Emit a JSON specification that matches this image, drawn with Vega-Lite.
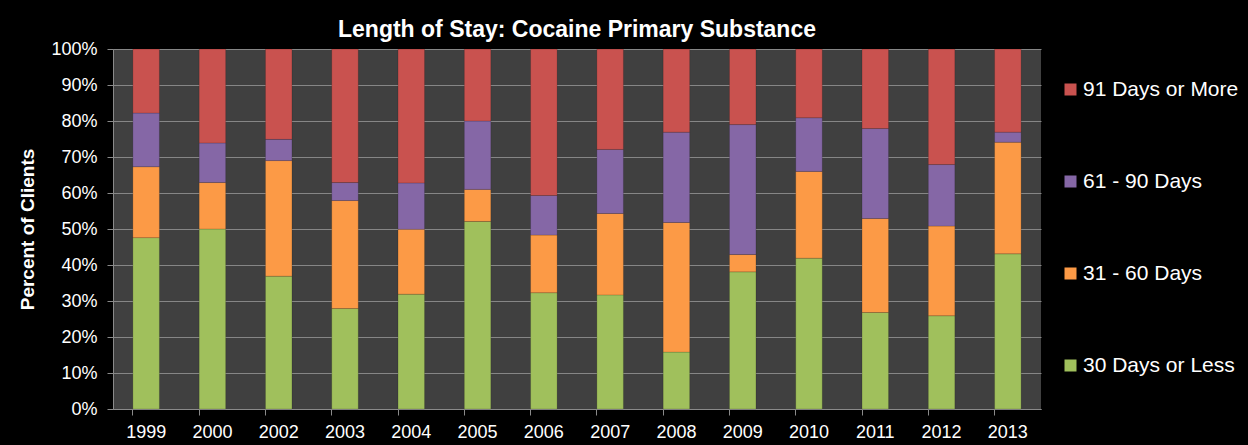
{
  "$schema": "https://vega.github.io/schema/vega-lite/v6.json",
  "width": 928,
  "height": 360,
  "autosize": {"type": "none"},
  "padding": {"left": 113, "top": 49, "right": 207, "bottom": 36},
  "background": "black",
  "title": {"text": "Length of Stay: Cocaine Primary Substance", "color": "white", "font": "Liberation Sans", "fontSize": 23, "fontWeight": "bold", "anchor": "middle", "offset": -2},
  "config": {
    "view": {"fill": "#404040", "stroke": null},
    "font": "Liberation Sans"
  },
  "data": {"values": [
    {"year": "1999", "cat": "30 Days or Less", "k": 1, "v": 47.6},
    {"year": "1999", "cat": "31 - 60 Days", "k": 2, "v": 19.7},
    {"year": "1999", "cat": "61 - 90 Days", "k": 3, "v": 14.9},
    {"year": "1999", "cat": "91 Days or More", "k": 4, "v": 17.8},
    {"year": "2000", "cat": "30 Days or Less", "k": 1, "v": 50.0},
    {"year": "2000", "cat": "31 - 60 Days", "k": 2, "v": 12.9},
    {"year": "2000", "cat": "61 - 90 Days", "k": 3, "v": 11.0},
    {"year": "2000", "cat": "91 Days or More", "k": 4, "v": 26.1},
    {"year": "2002", "cat": "30 Days or Less", "k": 1, "v": 36.9},
    {"year": "2002", "cat": "31 - 60 Days", "k": 2, "v": 32.1},
    {"year": "2002", "cat": "61 - 90 Days", "k": 3, "v": 5.9},
    {"year": "2002", "cat": "91 Days or More", "k": 4, "v": 25.1},
    {"year": "2003", "cat": "30 Days or Less", "k": 1, "v": 27.9},
    {"year": "2003", "cat": "31 - 60 Days", "k": 2, "v": 30.0},
    {"year": "2003", "cat": "61 - 90 Days", "k": 3, "v": 5.0},
    {"year": "2003", "cat": "91 Days or More", "k": 4, "v": 37.1},
    {"year": "2004", "cat": "30 Days or Less", "k": 1, "v": 31.9},
    {"year": "2004", "cat": "31 - 60 Days", "k": 2, "v": 18.0},
    {"year": "2004", "cat": "61 - 90 Days", "k": 3, "v": 12.9},
    {"year": "2004", "cat": "91 Days or More", "k": 4, "v": 37.2},
    {"year": "2005", "cat": "30 Days or Less", "k": 1, "v": 52.1},
    {"year": "2005", "cat": "31 - 60 Days", "k": 2, "v": 8.9},
    {"year": "2005", "cat": "61 - 90 Days", "k": 3, "v": 19.0},
    {"year": "2005", "cat": "91 Days or More", "k": 4, "v": 20.0},
    {"year": "2006", "cat": "30 Days or Less", "k": 1, "v": 32.3},
    {"year": "2006", "cat": "31 - 60 Days", "k": 2, "v": 16.0},
    {"year": "2006", "cat": "61 - 90 Days", "k": 3, "v": 11.0},
    {"year": "2006", "cat": "91 Days or More", "k": 4, "v": 40.7},
    {"year": "2007", "cat": "30 Days or Less", "k": 1, "v": 31.7},
    {"year": "2007", "cat": "31 - 60 Days", "k": 2, "v": 22.6},
    {"year": "2007", "cat": "61 - 90 Days", "k": 3, "v": 17.8},
    {"year": "2007", "cat": "91 Days or More", "k": 4, "v": 27.9},
    {"year": "2008", "cat": "30 Days or Less", "k": 1, "v": 15.8},
    {"year": "2008", "cat": "31 - 60 Days", "k": 2, "v": 36.0},
    {"year": "2008", "cat": "61 - 90 Days", "k": 3, "v": 25.1},
    {"year": "2008", "cat": "91 Days or More", "k": 4, "v": 23.1},
    {"year": "2009", "cat": "30 Days or Less", "k": 1, "v": 38.1},
    {"year": "2009", "cat": "31 - 60 Days", "k": 2, "v": 4.8},
    {"year": "2009", "cat": "61 - 90 Days", "k": 3, "v": 36.1},
    {"year": "2009", "cat": "91 Days or More", "k": 4, "v": 21.0},
    {"year": "2010", "cat": "30 Days or Less", "k": 1, "v": 41.9},
    {"year": "2010", "cat": "31 - 60 Days", "k": 2, "v": 24.1},
    {"year": "2010", "cat": "61 - 90 Days", "k": 3, "v": 14.9},
    {"year": "2010", "cat": "91 Days or More", "k": 4, "v": 19.1},
    {"year": "2011", "cat": "30 Days or Less", "k": 1, "v": 26.8},
    {"year": "2011", "cat": "31 - 60 Days", "k": 2, "v": 26.1},
    {"year": "2011", "cat": "61 - 90 Days", "k": 3, "v": 25.0},
    {"year": "2011", "cat": "91 Days or More", "k": 4, "v": 22.1},
    {"year": "2012", "cat": "30 Days or Less", "k": 1, "v": 25.9},
    {"year": "2012", "cat": "31 - 60 Days", "k": 2, "v": 24.9},
    {"year": "2012", "cat": "61 - 90 Days", "k": 3, "v": 17.1},
    {"year": "2012", "cat": "91 Days or More", "k": 4, "v": 32.1},
    {"year": "2013", "cat": "30 Days or Less", "k": 1, "v": 43.1},
    {"year": "2013", "cat": "31 - 60 Days", "k": 2, "v": 31.0},
    {"year": "2013", "cat": "61 - 90 Days", "k": 3, "v": 2.8},
    {"year": "2013", "cat": "91 Days or More", "k": 4, "v": 23.1}
  ]},
  "layer": [
    {
      "mark": {"type": "bar", "stroke": "#000000", "strokeOpacity": 0.15, "strokeWidth": 1},
      "encoding": {
        "x": {
          "field": "year", "type": "nominal", "title": null,
          "scale": {"paddingInner": 0.6, "paddingOuter": 0.3},
          "axis": {"orient": "bottom", "labelAngle": 0, "ticks": false, "domain": true, "domainColor": "#8a8a8a", "labelColor": "white", "labelFontSize": 18, "labelPadding": 14, "grid": false}
        },
        "y": {
          "field": "v", "type": "quantitative", "stack": "normalize",
          "scale": {"domain": [0, 1]},
          "title": "Percent of Clients",
          "axis": {"values": [0, 0.1, 0.2, 0.3, 0.4, 0.5, 0.6, 0.7, 0.8, 0.9, 1], "format": ".0%", "labelColor": "white", "labelFontSize": 18, "labelPadding": 10, "tickSize": 6, "tickColor": "#8a8a8a", "domainColor": "#8a8a8a", "gridColor": "#868686", "gridWidth": 1, "titleColor": "white", "titleFontSize": 19, "titleFontWeight": "bold", "titlePadding": 13}
        },
        "color": {
          "field": "cat", "type": "nominal",
          "scale": {"domain": ["91 Days or More", "61 - 90 Days", "31 - 60 Days", "30 Days or Less"], "range": ["#C9524F", "#8567A6", "#FC9A46", "#A0C05C"]},
          "legend": {"title": null, "orient": "none", "legendX": 947, "legendY": 30, "symbolType": "square", "symbolSize": 144, "symbolStrokeWidth": 0, "labelColor": "white", "labelFontSize": 21, "labelOffset": 2, "rowPadding": 70, "padding": 0}
        },
        "order": {"field": "k", "type": "quantitative"}
      }
    },
    {
      "mark": {"type": "bar", "opacity": 0},
      "encoding": {
        "x": {
          "field": "year", "type": "nominal", "title": null,
          "axis": {"orient": "bottom", "bandPosition": 0, "labels": false, "ticks": true, "tickSize": 6, "tickColor": "#8a8a8a", "domain": false, "grid": false}
        }
      }
    }
  ],
  "resolve": {"axis": {"x": "independent"}}
}
